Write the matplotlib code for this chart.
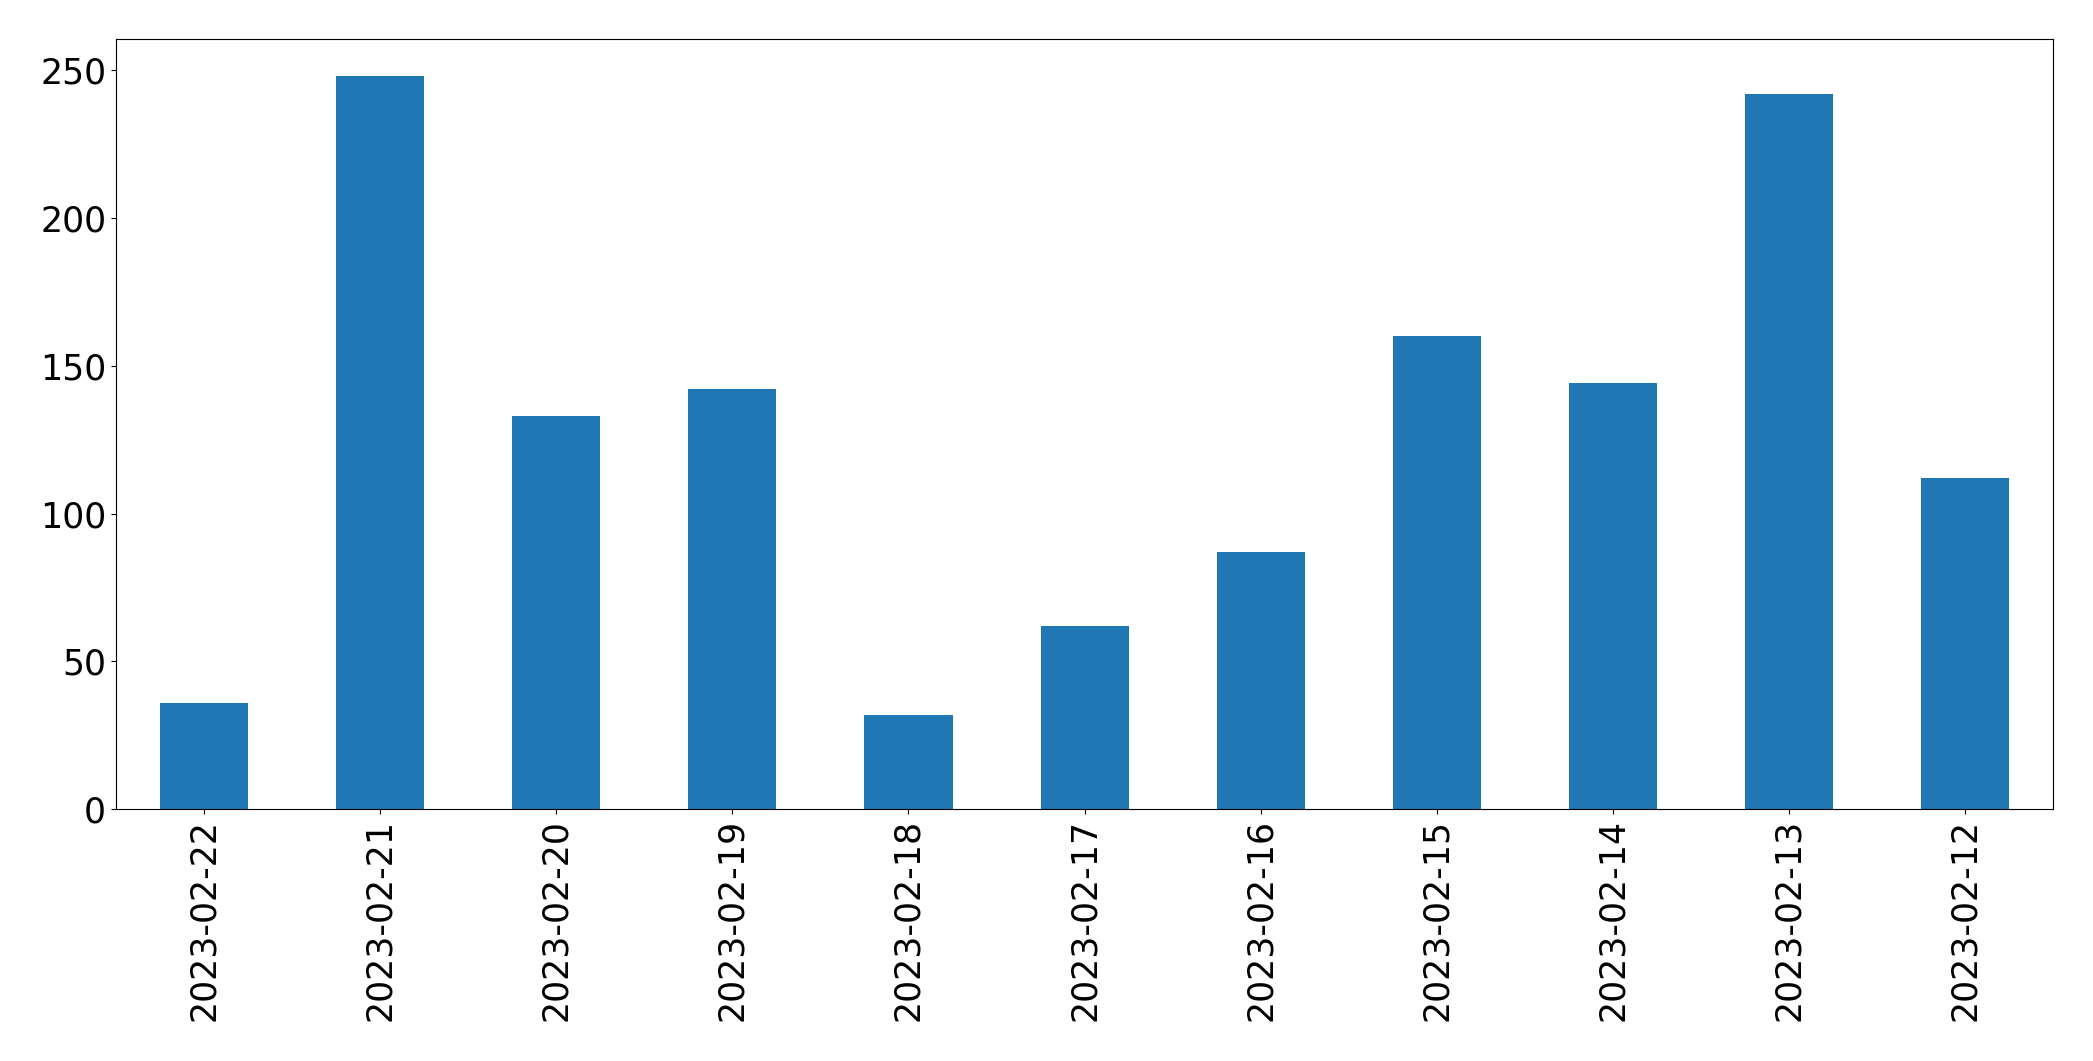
import matplotlib
matplotlib.use("Agg")
import matplotlib.pyplot as plt
import pandas as pd

dates = ['2023-02-22', '2023-02-21', '2023-02-20', '2023-02-19', '2023-02-18', '2023-02-17',
         '2023-02-16', '2023-02-15', '2023-02-14', '2023-02-13', '2023-02-12']
counts = [36, 248, 133, 142, 32, 62, 87, 160, 144, 242, 112]

results = pd.Series(counts, index=dates)

fig = plt.figure(figsize=(20.93, 10.61), dpi=100)
ax = fig.add_axes([0.0554, 0.2372, 0.9256, 0.7258])
results.plot(kind='bar', ax=ax, color='#1f77b4', width=0.5)

ax.tick_params(axis='both', labelsize=25)
ax.set_xticklabels(dates, rotation=90)

fig.savefig("out.png", dpi=100)
